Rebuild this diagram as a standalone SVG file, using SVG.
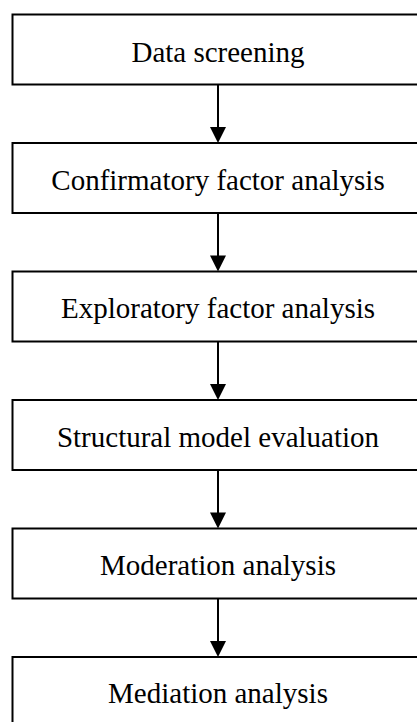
<svg xmlns="http://www.w3.org/2000/svg" width="417" height="722" viewBox="0 0 417 722">
  <style>
    .box { fill: #ffffff; stroke: #000000; stroke-width: 2; }
    .label { font-family: "Liberation Serif", "Times New Roman", serif; font-size: 29px; fill: #000000; text-anchor: middle; }
    .shaft { stroke: #000000; stroke-width: 2; fill: none; }
    .head { fill: #000000; }
  </style>
  <rect width="417" height="722" fill="#ffffff"/>

  <g id="step-data-screening">
    <rect class="box" x="12.5" y="14.5" width="412" height="70"/>
    <text class="label" x="218" y="61.5">Data screening</text>
  </g>
  <g id="step-cfa">
    <rect class="box" x="12.5" y="143" width="412" height="70"/>
    <text class="label" x="218" y="189.5">Confirmatory factor analysis</text>
  </g>
  <g id="step-efa">
    <rect class="box" x="12.5" y="271.5" width="412" height="70"/>
    <text class="label" x="218" y="318">Exploratory factor analysis</text>
  </g>
  <g id="step-structural-model">
    <rect class="box" x="12.5" y="400" width="412" height="70"/>
    <text class="label" x="218" y="446.5">Structural model evaluation</text>
  </g>
  <g id="step-moderation">
    <rect class="box" x="12.5" y="528.5" width="412" height="70"/>
    <text class="label" x="218" y="575">Moderation analysis</text>
  </g>
  <g id="step-mediation">
    <rect class="box" x="12.5" y="657" width="412" height="70"/>
    <text class="label" x="218" y="703">Mediation analysis</text>
  </g>

  <g id="connectors">
    <line class="shaft" x1="218" y1="85" x2="218" y2="128"/>
    <polygon class="head" points="210,127 226,127 218,143"/>
    <line class="shaft" x1="218" y1="213.5" x2="218" y2="256.5"/>
    <polygon class="head" points="210,255.5 226,255.5 218,271.5"/>
    <line class="shaft" x1="218" y1="342" x2="218" y2="385"/>
    <polygon class="head" points="210,384 226,384 218,400"/>
    <line class="shaft" x1="218" y1="470.5" x2="218" y2="513.5"/>
    <polygon class="head" points="210,512.5 226,512.5 218,528.5"/>
    <line class="shaft" x1="218" y1="599" x2="218" y2="642"/>
    <polygon class="head" points="210,641 226,641 218,657"/>
  </g>
</svg>
